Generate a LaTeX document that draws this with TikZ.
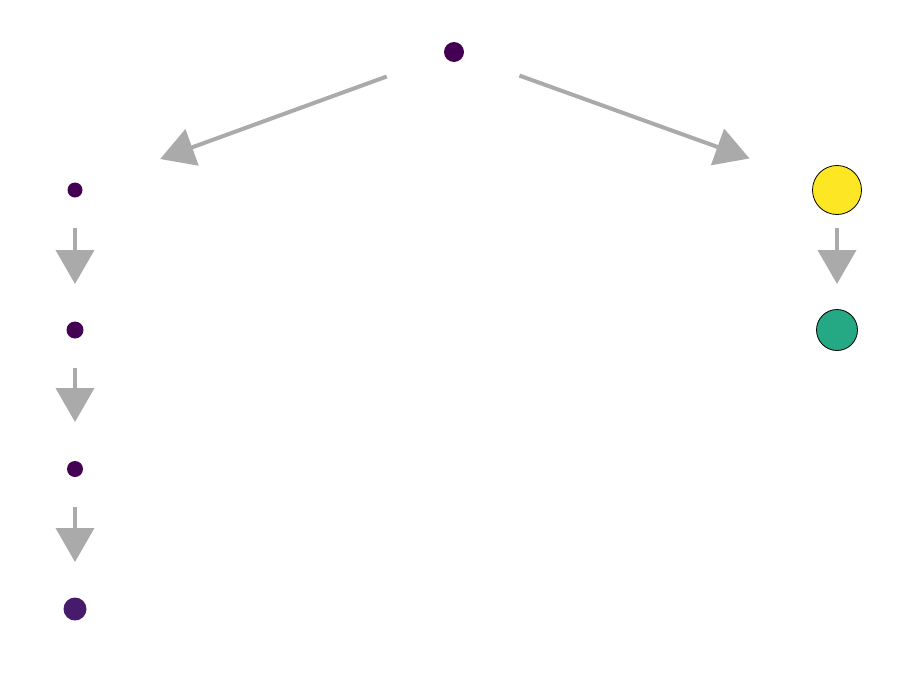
\documentclass[tikz,border=0pt]{standalone}
\usetikzlibrary{arrows.meta}
\definecolor{vpurple}{HTML}{440154}
\definecolor{vpurpleb}{HTML}{481A6C}
\definecolor{vyellow}{HTML}{FDE725}
\definecolor{vgreen}{HTML}{25A884}
\definecolor{edgegray}{HTML}{AAAAAA}
\begin{document}
\begin{tikzpicture}[x=1pt,y=-1pt,
  dot/.style={circle,inner sep=0pt,draw=none},
  ring/.style={circle,inner sep=0pt,draw=black,line width=0.8pt},
  edge/.style={draw=edgegray,line width=4pt,-{Triangle[length=34pt,width=38pt]}}]
\useasboundingbox (0,0) rectangle (900,675);
\node[dot,fill=vpurple,minimum size=20pt] (top) at (454,52) {};
\node[dot,fill=vpurple,minimum size=15pt] (l1) at (75,190) {};
\node[dot,fill=vpurple,minimum size=17pt] (l2) at (75,330) {};
\node[dot,fill=vpurple,minimum size=16pt] (l3) at (75,469) {};
\node[dot,fill=vpurpleb,minimum size=23pt] (l4) at (75,609) {};
\node[ring,fill=vyellow,minimum size=49pt] (r1) at (837,190) {};
\node[ring,fill=vgreen,minimum size=41pt] (r2) at (837,330) {};
\draw[edge,shorten <=71.5pt,shorten >=90.6pt] (top.center) -- (l1.center);
\draw[edge,shorten <=69.6pt,shorten >=93pt] (top.center) -- (r1.center);
\draw[edge,shorten <=38pt,shorten >=46pt] (l1.center) -- (l2.center);
\draw[edge,shorten <=38pt,shorten >=47pt] (l2.center) -- (l3.center);
\draw[edge,shorten <=38pt,shorten >=47pt] (l3.center) -- (l4.center);
\draw[edge,shorten <=38pt,shorten >=46pt] (r1.center) -- (r2.center);
\end{tikzpicture}
\end{document}
